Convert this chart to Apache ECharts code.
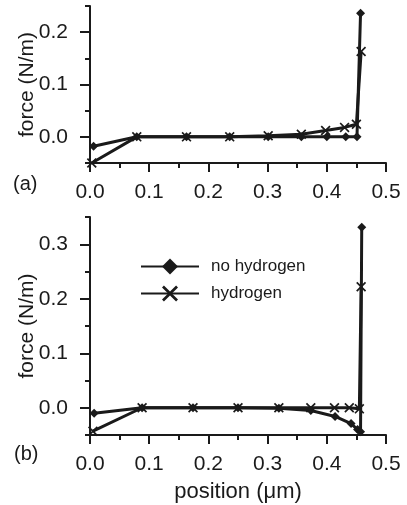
<!DOCTYPE html>
<html>
<head>
<meta charset="utf-8">
<script src="https://cdn.jsdelivr.net/npm/echarts@6/dist/echarts.min.js"></script>
<style>
    html, body { margin: 0; padding: 0; background: #fff; }
    #chart { width: 407px; height: 505px; }
</style>
</head>
<body>
<div id="chart"></div>
<script>
/* 数据：位置 (μm) 与力 (N/m) */
// (a) 面板
var aNoHydX = [0.006, 0.079, 0.163, 0.236, 0.301, 0.357, 0.400, 0.432, 0.451, 0.457];
var aNoHydY = [-0.018, 0, 0, 0, 0, 0, 0, 0, 0, 0.236];
var aHydX = [0.003, 0.079, 0.163, 0.236, 0.301, 0.357, 0.398, 0.430, 0.450, 0.458];
var aHydY = [-0.05, 0, 0, 0, 0.002, 0.005, 0.012, 0.018, 0.024, 0.163];
// (b) 面板
var bNoHydX = [0.007, 0.088, 0.174, 0.250, 0.319, 0.373, 0.414, 0.441, 0.452, 0.457, 0.459];
var bNoHydY = [-0.01, 0, 0, 0, -0.001, -0.005, -0.016, -0.029, -0.04, -0.044, 0.331];
var bHydX = [0.005, 0.088, 0.174, 0.250, 0.319, 0.373, 0.413, 0.438, 0.455, 0.458];
var bHydY = [-0.043, 0, 0, 0, 0, 0, 0, 0, -0.002, 0.222];

var aYTicks = [0, 0.1, 0.2];
var bYTicks = [0, 0.1, 0.2, 0.3];

var font = 'Liberation Sans, Arial, sans-serif';
var ink = '#1a1a1a';
var crossPath = 'path://M0,1.2L1.2,0L5,3.8L8.8,0L10,1.2L6.2,5L10,8.8L8.8,10L5,6.2L1.2,10L0,8.8L3.8,5Z';

// x/y 数组合并成点
function zip(xs, ys) {
    var arr = [];
    for (var i = 0; i < xs.length; i++) {
        arr.push([xs[i], ys[i]]);
    }
    return arr;
}

// 主坐标轴（长刻度 + 标签）
function mainX(grid) {
    return {
        type: 'value', gridIndex: grid, min: 0, max: 0.5, interval: 0.1, position: 'bottom',
        axisLine: { onZero: false, lineStyle: { color: ink, width: 2 } },
        axisTick: { length: 9, lineStyle: { color: ink, width: 2 } },
        axisLabel: {
            margin: 19, fontSize: 21, fontFamily: font, color: ink,
            formatter: function (v) { return v.toFixed(1); }
        },
        splitLine: { show: false }
    };
}
// 副坐标轴（短刻度）
function minorX(grid) {
    return {
        type: 'value', gridIndex: grid, min: 0, max: 0.5, interval: 0.05, position: 'bottom',
        axisLine: { show: false, onZero: false },
        axisTick: { length: 5, lineStyle: { color: ink, width: 2 } },
        axisLabel: { show: false },
        splitLine: { show: false }
    };
}
function mainY(grid, max, ticks) {
    return {
        type: 'value', gridIndex: grid, min: -0.05, max: max, position: 'left',
        name: 'force (N/m)', nameLocation: 'middle', nameGap: 52, nameMoveOverlap: false,
        nameTextStyle: { fontSize: 21, fontFamily: font, color: ink },
        axisLine: { show: true, onZero: false, lineStyle: { color: ink, width: 2 } },
        axisTick: { show: true, length: 10, customValues: ticks, lineStyle: { color: ink, width: 2 } },
        axisLabel: {
            margin: 22, fontSize: 21, fontFamily: font, color: ink, customValues: ticks,
            formatter: function (v) { return v.toFixed(1); }
        },
        splitLine: { show: false }
    };
}
function minorY(grid, max) {
    return {
        type: 'value', gridIndex: grid, min: -0.05, max: max, interval: 0.05, position: 'left',
        axisLine: { show: false, onZero: false },
        axisTick: { show: true, length: 5, lineStyle: { color: ink, width: 2 } },
        axisLabel: { show: false },
        splitLine: { show: false }
    };
}

function lineSeries(name, data, xi, yi, symbol, size) {
    return {
        name: name, type: 'line', data: data,
        xAxisIndex: xi, yAxisIndex: yi,
        symbol: symbol, symbolSize: size, showSymbol: true,
        itemStyle: { color: ink },
        lineStyle: { color: ink, width: 3 },
        emphasis: { disabled: true }
    };
}

var xB = mainX(1);
xB.name = 'position (μm)';
xB.nameLocation = 'middle';
xB.nameGap = 46;
xB.nameMoveOverlap = false;
xB.nameTextStyle = { fontSize: 22, fontFamily: font, color: ink };

var myChart = echarts.init(document.getElementById('chart'), null, { renderer: 'canvas' });
var option = {
    animation: false,
    backgroundColor: '#fff',
    title: [
        { text: '(a)', left: 13, top: 174, padding: 0, textStyle: { fontSize: 20, fontWeight: 'normal', fontFamily: font, color: ink } },
        { text: '(b)', left: 14, top: 444, padding: 0, textStyle: { fontSize: 20, fontWeight: 'normal', fontFamily: font, color: ink } }
    ],
    legend: {
        orient: 'vertical', left: 135, top: 253,
        itemWidth: 58, itemHeight: 20, itemGap: 10,
        selectedMode: false,
        textStyle: { fontSize: 17, fontFamily: font, color: ink, padding: [0, 0, 0, 7] },
        data: ['no hydrogen', 'hydrogen']
    },
    grid: [
        { left: 90, top: 6, width: 296, height: 157 },
        { left: 90, top: 217, width: 296, height: 218 }
    ],
    xAxis: [mainX(0), minorX(0), xB, minorX(1)],
    yAxis: [mainY(0, 0.25, aYTicks), minorY(0, 0.25), mainY(1, 0.35, bYTicks), minorY(1, 0.35)],
    series: [
        lineSeries('no hydrogen', zip(aNoHydX, aNoHydY), 0, 0, 'diamond', 9),
        lineSeries('hydrogen', zip(aHydX, aHydY), 0, 0, crossPath, 10),
        lineSeries('no hydrogen', zip(bNoHydX, bNoHydY), 2, 2, 'diamond', 9),
        lineSeries('hydrogen', zip(bHydX, bHydY), 2, 2, crossPath, 10)
    ]
};
myChart.setOption(option);
</script>
</body>
</html>
